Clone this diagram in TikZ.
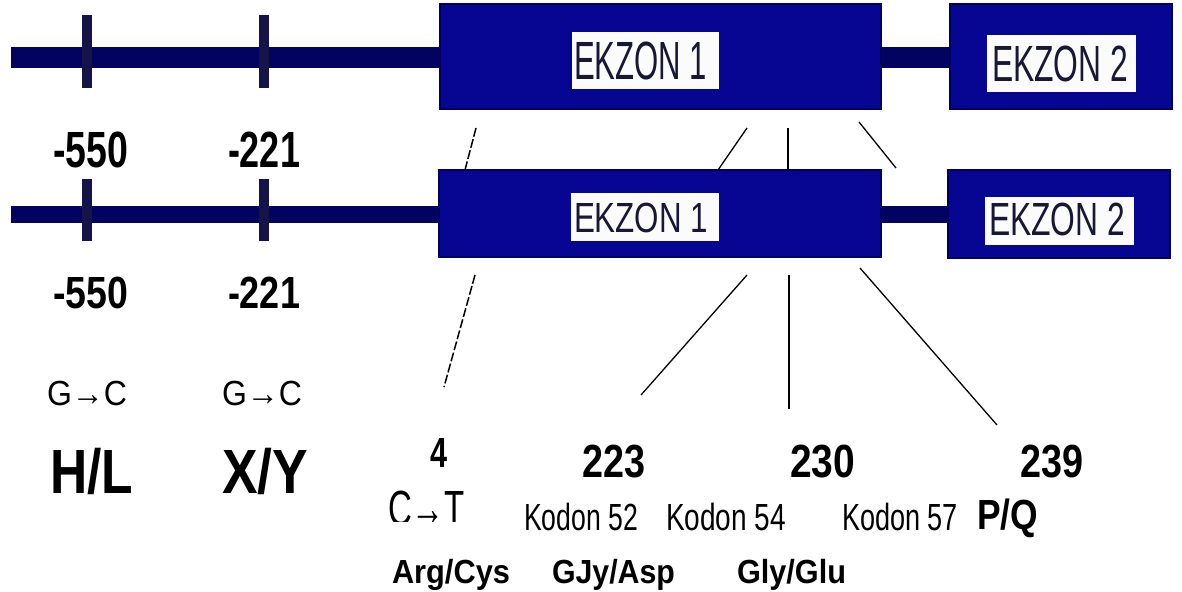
\documentclass[tikz,border=0pt]{standalone}
\usepackage{graphicx}
\usepackage{fontspec}
\setmainfont{Liberation Sans}
\definecolor{exonfill}{RGB}{6,6,146}
\definecolor{exonedge}{RGB}{0,0,92}
\definecolor{introncol}{RGB}{2,2,96}
\definecolor{tickcol}{RGB}{20,20,72}
\definecolor{labeltext}{RGB}{24,24,52}
% box whose height is the cap height of the current font (depth kept)
\newcommand{\capbox}[1]{\raisebox{0pt}[\fontcharht\font`H][\depth]{#1}}
% scale a piece of text so that its width and cap height are exact
\newcommand{\fitto}[3]{\resizebox{#1pt}{#2pt}{\capbox{#3}}}
\newcommand{\fittob}[3]{\resizebox{#1pt}{#2pt}{\bfseries\capbox{#3}}}
\tikzset{
  exonbox/.style={draw=exonedge, line width=1.6pt, fill=exonfill, inner sep=0pt, outer sep=0pt},
  labelbox/.style={fill=white!97!gray, inner sep=0pt, outer sep=0pt},
  intron/.style={draw=introncol, line cap=butt},
  tickmark/.style={fill=tickcol, inner sep=0pt, outer sep=0pt, minimum width=10pt},
  txt/.style={inner sep=0pt, outer sep=0pt, anchor=base west, text=black},
  exontxt/.style={txt, text=labeltext},
  site/.style={draw=black, line width=1.3pt},
  sitedash/.style={site, line width=1.5pt, dash pattern=on 9pt off 2.5pt}
}
\begin{document}
\begin{tikzpicture}[x=1pt, y=-1pt]
\useasboundingbox (0,0) rectangle (1182,591);
\fill[white] (0,0) rectangle (1182,591);

% ---------- upper gene ----------
\coordinate (s1) at (11,57.5);
\node[exonbox, minimum width=441pt, minimum height=105pt] (e1a) at (660.5,56.5) {};
\node[exonbox, minimum width=222pt, minimum height=105pt] (e2a) at (1061,56.5) {};
\draw[intron, line width=21pt] (s1) -- (e1a.west |- s1);
\draw[intron, line width=21pt] (e1a.east |- s1) -- (e2a.west |- s1);
\node[tickmark, minimum height=73pt] (t1a) at (87,51.5) {};
\node[tickmark, minimum height=73pt] (t2a) at (264,51.5) {};
\node[labelbox, minimum width=147pt, minimum height=57pt] (l1a) at (645.5,60.5) {};
\node[labelbox, minimum width=149pt, minimum height=57pt] (l2a) at (1061.5,63.5) {};
\node[exontxt] (x1a) at (574,80) {\fitto{133}{37}{EKZON 1}};
\node[exontxt] (x2a) at (992,82) {\fitto{136}{35}{EKZON 2}};

% ---------- lower gene ----------
\coordinate (s2) at (11,214.5);
\node[exonbox, minimum width=442pt, minimum height=87pt] (e1b) at (660,213.5) {};
\node[exonbox, minimum width=222pt, minimum height=88pt] (e2b) at (1059,214) {};
\draw[intron, line width=17pt] (s2) -- (e1b.west |- s2);
\draw[intron, line width=17pt] (e1b.east |- s2) -- (e2b.west |- s2);
\node[tickmark, minimum height=62pt] (t1b) at (87,210) {};
\node[tickmark, minimum height=62pt] (t2b) at (264,210) {};
\node[labelbox, minimum width=148pt, minimum height=48pt] (l1b) at (645,217) {};
\node[labelbox, minimum width=149pt, minimum height=48pt] (l2b) at (1059.5,221) {};
\node[exontxt] (x1b) at (574,232) {\fitto{134}{29}{EKZON 1}};
\node[exontxt] (x2b) at (989,235) {\fitto{136}{32}{EKZON 2}};

% ---------- position labels ----------
\node[txt] (p550a) at (53,167) {\fittob{75}{35}{-550}};
\node[txt] (p221a) at (228,167) {\fittob{72}{35}{-221}};
\node[txt] (p550b) at (53,308) {\fittob{75}{31}{-550}};
\node[txt] (p221b) at (228,308) {\fittob{72}{31}{-221}};
\node[txt] (gc1) at (47,405) {\fitto{80}{24}{G→C}};
\node[txt] (gc2) at (222,405) {\fitto{80}{24}{G→C}};
\node[txt] (hl) at (50,493) {\fittob{83}{43}{H/L}};
\node[txt] (xy) at (222,493) {\fittob{86}{43}{X/Y}};

\node[txt] (p4) at (430,467) {\fittob{17}{29}{4}};
\node[txt] (p223) at (582,477) {\fittob{63}{32}{223}};
\node[txt] (p230) at (790,477) {\fittob{65}{32}{230}};
\node[txt] (p239) at (1020,477) {\fittob{63}{32}{239}};
\begin{scope}
  \clip (380,480) rectangle (480,521);
  \node[txt] (ct) at (388,525) {\fitto{77}{34}{C→T}};
\end{scope}
\node[txt] (k52) at (524,530) {\fitto{114}{26}{Kodon 52}};
\node[txt] (k54) at (666,530) {\fitto{120}{26}{Kodon 54}};
\node[txt] (k57) at (842,530) {\fitto{116}{26}{Kodon 57}};
\node[txt] (pq) at (977,529) {\fittob{61}{29}{P/Q}};
\node[txt] (aa1) at (392,583) {\fittob{118}{23}{Arg/Cys}};
\node[txt] (aa2) at (552,583) {\fittob{123}{23}{GJy/Asp}};
\node[txt] (aa3) at (737,583) {\fittob{109}{23}{Gly/Glu}};

% ---------- mutation site lines ----------
\coordinate (ga1) at (476,128); \coordinate (gb1) at (465,170);
\coordinate (ga2) at (747,128); \coordinate (gb2) at (718,170);
\coordinate (ga3) at (788,128); \coordinate (gb3) at (788,170);
\coordinate (ga4) at (859,122); \coordinate (gb4) at (896,168);
\draw[sitedash] (ga1) -- (gb1);
\draw[site] (ga2) -- (gb2);
\draw[site] (ga3) -- (gb3);
\draw[site] (ga4) -- (gb4);

\coordinate (ha1) at (475,275); \coordinate (hb1) at (444,387);
\coordinate (ha2) at (747,275); \coordinate (hb2) at (641,395);
\coordinate (ha3) at (789,275); \coordinate (hb3) at (789,409);
\coordinate (ha4) at (860,268); \coordinate (hb4) at (997,425);
\draw[sitedash] (ha1) -- (hb1);
\draw[site] (ha2) -- (hb2);
\draw[site] (ha3) -- (hb3);
\draw[site] (ha4) -- (hb4);
\end{tikzpicture}
\end{document}
